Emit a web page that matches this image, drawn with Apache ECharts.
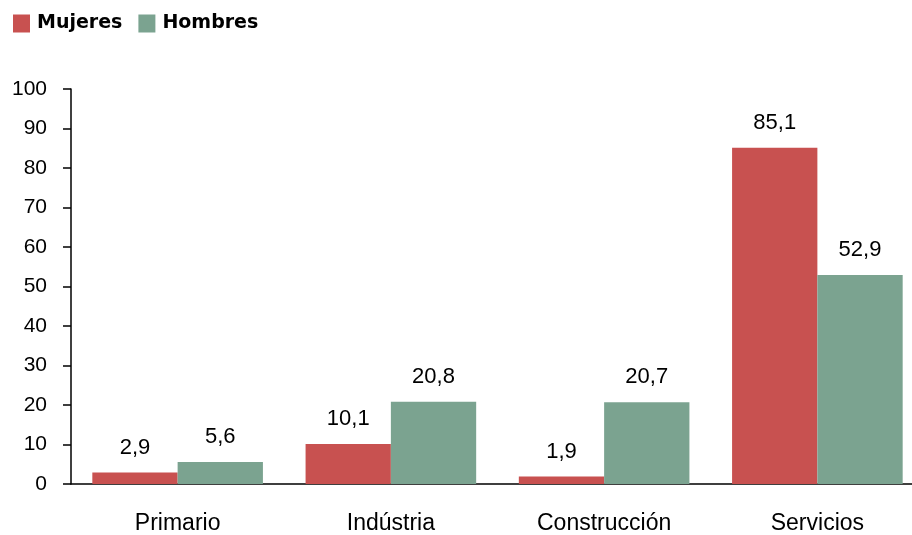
<!DOCTYPE html>
<html><head><meta charset="utf-8">
<script src="https://cdn.jsdelivr.net/npm/echarts@6/dist/echarts.min.js"></script>
<style>html,body{margin:0;padding:0;background:#fff;overflow:hidden}#wrap{position:relative;width:912px;height:535px;overflow:hidden}#c{position:absolute;left:0;top:0;width:924px;height:535px}</style>
</head><body><div id="wrap"><div id="c"></div></div>
<script>
const categories = ['Primario', 'Indústria', 'Construcción', 'Servicios'];
const mujeres = [2.9, 10.1, 1.9, 85.1];
const hombres = [5.6, 20.8, 20.7, 52.9];
const yTicks = [0, 10, 20, 30, 40, 50, 60, 70, 80, 90, 100];
const fmt = p => String(p.value).replace('.', ',');
const chart = echarts.init(document.getElementById('c'));
const FONT = 'Arial, Liberation Sans';
const lbl = {show: true, position: 'top', distance: 14, color: '#000', fontSize: 22, fontFamily: FONT, formatter: fmt};
chart.setOption({
  animation: false,
  legend: {left: 13, top: 14, padding: 0, itemWidth: 17, itemHeight: 18, itemGap: 16, icon: 'rect',
    textStyle: {fontSize: 19, fontWeight: 'bold', color: '#000', fontFamily: 'DejaVu Sans', padding: [0,0,0,2]},
    data: ['Mujeres', 'Hombres']},
  grid: {left: 71, top: 89, right: 0, height: 400},
  xAxis: {type: 'category', data: categories,
    axisLine: {lineStyle: {color: '#000', width: 1.5}},
    axisTick: {length: 9, lineStyle: {color: '#000', width: 1.5}},
    axisLabel: {fontSize: 23, color: '#000', fontFamily: FONT, margin: 28}},
  yAxis: {type: 'value', min: yTicks[0], max: yTicks[yTicks.length-1], interval: 10,
    axisLine: {show: true, lineStyle: {color: '#000', width: 1.5}},
    axisTick: {show: true, inside: false, length: 8, lineStyle: {color: '#000', width: 1.5}},
    splitLine: {show: false},
    axisLabel: {fontSize: 21, color: '#000', fontFamily: FONT, margin: 24}},
  series: [
    {name: 'Mujeres', type: 'bar', data: mujeres, barGap: '0%', barCategoryGap: '20%', itemStyle: {color: '#C85150'}, label: lbl},
    {name: 'Hombres', type: 'bar', data: hombres, itemStyle: {color: '#7BA390'}, label: lbl}
  ]
});
</script></body></html>
